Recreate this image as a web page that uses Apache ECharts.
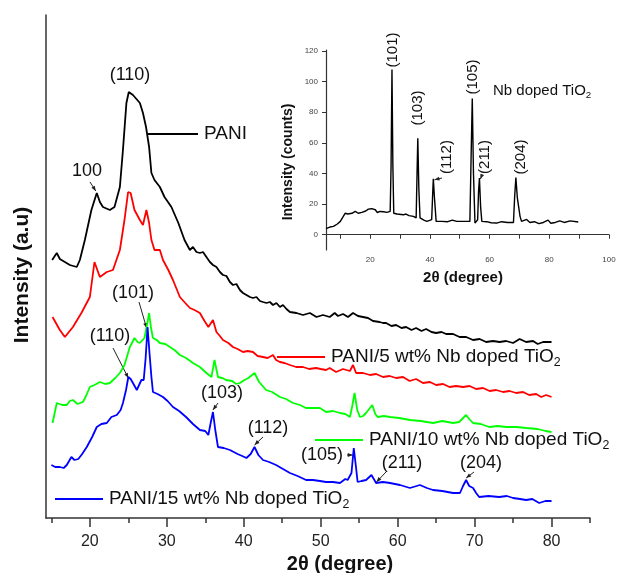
<!DOCTYPE html>
<html>
<head>
<meta charset="utf-8">
<script src="https://cdn.jsdelivr.net/npm/echarts@6/dist/echarts.min.js"></script>
<style>
  html, body { margin: 0; padding: 0; background: #fff; }
  #chart { width: 633px; height: 573px; }
</style>
</head>
<body>
<div id="chart"></div>
<script>
// main plot: [2theta, intensity a.u.]
const pani = [[15.1,258],[15.7,265],[16.1,259],[16.75,256],[17.4,253],[18.3,251],[18.7,258],[19.35,278],[20.2,308],[20.9,325],[21.3,316],[21.7,311],[22.6,308],[23.2,311],[23.9,331],[24.3,368],[24.75,415],[25.06,426],[25.6,423],[26.5,415],[26.9,405],[27.3,391],[27.7,371],[28.0,345],[28.4,338],[29.1,331],[29.7,321],[30.6,311],[31.5,295],[32.3,278],[33.0,268],[33.4,271],[33.85,266],[34.3,265],[34.7,266],[35.15,261],[35.6,256],[36.0,253],[36.45,251],[36.9,246],[37.3,243],[37.75,242],[38.2,236],[38.6,233],[39.05,234],[39.5,228],[39.9,225],[40.35,223],[40.8,221],[41.2,220],[41.65,221],[42.1,217],[42.5,216],[42.95,215],[43.4,216],[43.8,213],[44.25,215],[44.7,211],[45.1,213],[45.55,209],[46.0,206],[46.85,205],[47.7,203],[48.6,205],[49.45,201],[50.3,203],[51.17,201],[51.82,205],[52.25,202],[52.9,204],[53.55,201],[54.2,205],[54.85,202],[55.5,201],[56.15,200],[56.8,197],[57.66,196],[58.1,195],[58.5,195],[59.2,192],[59.8,193],[60.5,190],[61.1,191],[61.8,188],[62.4,190],[63.1,187],[63.7,189],[64.4,186],[65.0,185],[65.7,186],[66.3,184],[67.2,184],[68.05,181],[68.9,181],[69.8,178],[70.65,179],[71.5,176],[72.4,177],[73.25,176],[74.1,177],[75.0,175],[75.85,179],[76.7,176],[77.6,177],[78.2,174],[78.9,176],[80.0,176]];
const nb5 = [[15.15,201],[16.1,188],[16.75,181],[17.8,191],[18.9,205],[20.0,221],[20.6,256],[21.3,241],[22.2,246],[23.0,248],[23.9,268],[24.3,288],[24.5,298],[24.97,326],[25.3,325],[25.8,308],[26.5,298],[26.9,293],[27.35,308],[27.7,295],[28.0,278],[28.4,268],[29.1,268],[29.5,258],[30.2,248],[30.8,238],[31.7,221],[32.4,215],[33.0,210],[33.6,208],[34.3,205],[34.9,197],[35.4,191],[36.0,198],[36.45,186],[36.9,182],[37.3,178],[38.0,175],[38.6,171],[39.2,169],[39.9,166],[40.5,167],[41.2,166],[41.8,162],[42.5,161],[43.1,160],[43.8,163],[44.2,158],[44.7,156],[45.3,155],[46.0,153],[46.8,151],[47.7,151],[48.5,149],[49.4,150],[50.0,149],[50.7,148],[51.17,150],[52.0,146],[52.9,149],[53.8,147],[54.2,153],[54.6,145],[55.5,145],[56.4,143],[57.2,144],[58.1,141],[58.96,142],[59.8,140],[60.7,141],[61.56,137],[62.4,139],[63.3,135],[64.2,136],[65.0,133],[65.9,134],[66.75,131],[67.6,132],[68.5,131],[69.35,132],[70.2,129],[71.1,130],[71.95,127],[72.8,128],[73.7,126],[74.55,127],[75.4,125],[76.3,126],[77.1,123],[78.0,124],[78.66,121],[79.3,123],[80.0,121]];
const nb10 = [[15.15,95],[15.7,115],[16.4,113],[17.0,113],[17.4,117],[17.8,118],[18.4,114],[19.1,116],[19.5,122],[20.0,131],[20.6,133],[21.3,136],[22.0,134],[22.6,135],[23.3,140],[23.9,145],[24.5,153],[25.2,171],[25.8,180],[26.2,176],[26.5,175],[27.1,180],[27.4,192],[27.7,205],[27.95,190],[28.2,180],[28.7,178],[29.1,175],[29.8,174],[30.4,171],[31.0,168],[31.7,163],[32.5,160],[33.4,155],[34.3,151],[35.15,145],[35.8,141],[36.2,158],[36.65,141],[37.2,140],[37.7,138],[38.5,137],[39.0,134],[39.5,135],[40.1,138],[40.6,140],[41.4,145],[42.0,136],[42.9,128],[43.7,126],[44.7,121],[45.5,119],[46.4,115],[47.3,113],[48.1,110],[49.0,110],[49.9,110],[50.7,106],[51.6,107],[52.5,105],[53.2,104],[53.8,101],[54.1,112],[54.4,125],[54.75,108],[55.1,101],[55.5,102],[55.9,105],[56.7,113],[57.1,104],[57.4,101],[58.2,102],[59.0,101],[60.2,100],[61.6,98],[63.0,97],[64.6,95],[65.8,97],[67.2,95],[68.0,96],[68.9,103],[69.3,99],[69.8,95],[70.8,94],[71.9,91],[73.0,92],[74.1,91],[75.5,91],[76.7,90],[78.2,89],[79.2,87],[80,86]];
const nb15 = [[15.0,53],[15.5,51],[16.1,51],[16.6,50],[17.0,53],[17.6,61],[18.0,58],[18.5,59],[19.0,64],[19.6,71],[20.3,81],[20.9,91],[21.5,94],[22.2,95],[22.8,101],[23.5,103],[24.0,108],[24.3,115],[24.7,128],[25.0,141],[25.3,139],[25.6,135],[26.1,128],[26.4,133],[26.7,138],[27.0,138],[27.25,160],[27.5,191],[27.75,165],[28.0,141],[28.2,126],[28.8,124],[29.5,121],[30.1,117],[30.8,111],[31.6,107],[32.5,101],[33.4,94],[34.3,88],[35.0,87],[35.4,83],[35.7,95],[36.0,106],[36.3,88],[36.65,71],[37.4,70],[38.2,68],[39.2,64],[39.8,62],[40.35,60],[40.9,64],[41.4,71],[41.9,63],[42.5,58],[43.3,56],[44.2,53],[45.1,49],[46.0,45],[47.0,42],[48.1,38],[49.0,38],[49.9,37],[50.7,36],[51.6,36],[52.5,35],[53.2,39],[53.5,38],[54.0,45],[54.3,70],[54.6,50],[54.8,36],[55.3,37],[55.9,38],[56.6,43],[57.2,35],[58.1,36],[59.0,35],[60.3,33],[61.6,30],[62.9,33],[63.8,30],[64.6,28],[65.8,27],[67.2,25],[68.1,25],[68.5,32],[68.9,38],[69.3,32],[69.8,30],[70.2,25],[70.6,21],[71.8,22],[73.2,21],[74.2,22],[75.0,20],[75.9,19],[76.7,18],[77.5,19],[78.4,15],[79.2,17],[80,17]];

// inset: Nb doped TiO2, [2theta, counts]
const nbTiO2 = [[5.2,4],[6.5,5],[7.7,5.4],[9,7],[10,8.7],[11,12],[11.6,14],[12.5,13.5],[13.9,14],[15,15.2],[16,14],[17.2,14.6],[18.5,15.5],[19.4,16.7],[20.5,17],[21.7,16.3],[22.4,14.5],[23.3,15.2],[24.5,15],[25.6,14.6],[26.7,15.2],[27.0,45],[27.3,108],[27.6,45],[27.9,14],[29,13.5],[31.1,13],[32,13.5],[33,12.5],[34.5,12],[35.4,11],[35.7,40],[35.95,63],[36.3,30],[36.7,11],[38,9.5],[39,8.7],[40.6,9.8],[40.9,25],[41.15,36.5],[41.5,25],[42.1,8.7],[44,8.7],[46,8.5],[47.5,9.5],[49,8.7],[51,8.7],[53.4,8.7],[53.8,50],[54.2,89],[54.6,40],[55.1,7.6],[56.0,9.8],[56.3,28],[56.6,37],[57.0,18],[57.4,8.7],[59,8.5],[60.5,7.8],[62.4,7.6],[64,8.5],[66,8],[68.0,8.0],[68.4,25],[68.8,37.4],[69.3,24],[69.7,22.8],[70.2,12],[70.7,8.7],[72.4,10],[73.5,8],[75,8.5],[76.5,7.2],[78,8],[79.6,9.5],[80.5,7.5],[82,8],[83.5,9],[85,8],[87,9],[89.7,8.3]];

const mainTicks = [20, 30, 40, 50, 60, 70, 80];
const mainMinorTicks = [15, 25, 35, 45, 55, 65, 75, 85];
const insetXTicks = [10, 20, 30, 40, 50, 60, 70, 80, 90, 100];
const insetXLabels = [20, 40, 60, 80, 100];
const insetYLabels = [0, 20, 40, 60, 80, 100, 120];

const FONT = '"Liberation Sans", Arial, sans-serif';
const AX = '#333';

const chart = echarts.init(document.getElementById('chart'));

function curve(data, color, xi, yi, w) {
  return {
    type: 'line', data: data, xAxisIndex: xi, yAxisIndex: yi,
    showSymbol: false, smooth: false, silent: true,
    lineStyle: { color: color, width: w }
  };
}

chart.setOption({
  animation: false,
  grid: [
    { left: 46, right: 43, top: 15, bottom: 55 },
    { left: 326, right: 24, top: 50, bottom: 323 }
  ],
  xAxis: [
    {
      gridIndex: 0, type: 'value', min: 14.3, max: 85,
      axisLine: { lineStyle: { color: AX, width: 1.5 } },
      axisTick: { customValues: mainTicks, length: 9, lineStyle: { color: AX, width: 1.5 } },
      axisLabel: { customValues: mainTicks, color: '#222', fontSize: 16, fontFamily: FONT, margin: 16 },
      splitLine: { show: false }
    },
    {
      gridIndex: 0, type: 'value', min: 14.3, max: 85, position: 'bottom',
      axisLine: { show: false },
      axisTick: { customValues: mainMinorTicks, length: 5, lineStyle: { color: AX, width: 1.5 } },
      axisLabel: { show: false },
      splitLine: { show: false }
    },
    {
      gridIndex: 1, type: 'value', min: 5.2, max: 100,
      axisLine: { lineStyle: { color: AX, width: 1.2 } },
      axisTick: { customValues: insetXTicks, length: 4, lineStyle: { color: AX } },
      axisLabel: { customValues: insetXLabels, color: '#444', fontSize: 8, fontFamily: FONT, margin: 6 },
      splitLine: { show: false }
    }
  ],
  yAxis: [
    {
      gridIndex: 0, type: 'value', min: 0, max: 503,
      axisLine: { show: true, lineStyle: { color: AX, width: 1.5 } },
      axisTick: { show: false }, axisLabel: { show: false }, splitLine: { show: false }
    },
    {
      gridIndex: 1, type: 'value', min: -10, max: 120.7,
      axisLine: { show: true, lineStyle: { color: AX, width: 1.2 } },
      axisTick: { customValues: insetYLabels, length: 4, lineStyle: { color: AX } },
      axisLabel: { customValues: insetYLabels, color: '#444', fontSize: 8, fontFamily: FONT, margin: 8 },
      splitLine: { show: false }
    }
  ],
  series: [
    curve(pani, '#000000', 0, 0, 1.8),
    curve(nb5, '#ff0000', 0, 0, 1.8),
    curve(nb10, '#00ff00', 0, 0, 1.8),
    curve(nb15, '#0000ff', 0, 0, 1.8),
    curve(nbTiO2, '#000000', 2, 1, 1.4)
  ]
});

// ---- annotations ----
const px = (p) => chart.convertToPixel({ xAxisIndex: 0, yAxisIndex: 0 }, p);
const pxIn = (p) => chart.convertToPixel({ xAxisIndex: 2, yAxisIndex: 1 }, p);

function txt(s, x, y, size, opts) {
  opts = opts || {};
  return {
    type: 'text', x: x, y: y, rotation: opts.rot || 0, silent: true,
    style: {
      text: s, fontSize: size, fontFamily: FONT, fontWeight: opts.bold ? 'bold' : 'normal',
      fill: opts.color || '#111', align: opts.align || 'center', verticalAlign: 'middle',
      rich: opts.rich
    }
  };
}
function seg(x1, y1, x2, y2, color, w) {
  return { type: 'line', silent: true, shape: { x1, y1, x2, y2 }, style: { stroke: color, lineWidth: w } };
}
function arrow(x1, y1, x2, y2) {
  const a = Math.atan2(y2 - y1, x2 - x1), L = 5, W = 2;
  const c = Math.cos(a), s = Math.sin(a);
  return [
    seg(x1, y1, x2, y2, '#222', 1),
    { type: 'polygon', silent: true, shape: { points: [[x2, y2], [x2 - L * c + W * s, y2 - L * s - W * c], [x2 - L * c - W * s, y2 - L * s + W * c]] }, style: { fill: '#222' } }
  ];
}
const subRich = (size) => ({ s: { fontSize: size * 0.65, fontFamily: FONT, fill: '#111', padding: [size * 0.55, 0, 0, 0] } });

const g = [];
// PANI curve labels
g.push(txt('(110)', 130, 75, 18));
g.push(txt('100', 87, 171, 18));
const p100 = px([20.9, 325]);
g.push(...arrow(90, 182, p100[0] - 1, p100[1] - 2));
const pLine = px([27.55, 383]);
g.push(seg(pLine[0], 134, 198, 134, '#000', 1.8));
g.push(txt('PANI', 204, 134, 19, { align: 'left' }));

// legend-like lines
g.push(seg(277, 357, 325, 357, '#ff0000', 1.8));
g.push(txt('PANI/5 wt% Nb doped TiO{s|2}', 331, 357, 19, { align: 'left', rich: subRich(19) }));
g.push(seg(315, 440, 363, 440, '#00ff00', 1.8));
g.push(txt('PANI/10 wt% Nb doped TiO{s|2}', 369, 440, 19, { align: 'left', rich: subRich(19) }));
g.push(seg(55, 499, 103, 499, '#0000ff', 1.8));
g.push(txt('PANI/15 wt% Nb doped TiO{s|2}', 109, 499, 19, { align: 'left', rich: subRich(19) }));

// PANI/15 peak labels
const pk = (d, dx, dy) => { const p = px(d); return [p[0] + dx, p[1] + dy]; };
let t;
g.push(txt('(101)', 133, 293, 18));
t = pk([27.5, 191], -1, 1); g.push(...arrow(139, 302, t[0], t[1]));
g.push(txt('(110)', 110, 336, 18));
t = pk([25.0, 141], 0, 1); g.push(...arrow(113, 348, t[0], t[1]));
g.push(txt('(103)', 222, 393, 18));
t = pk([36.0, 106], 0, -2); g.push(...arrow(218, 403, t[0], t[1]));
g.push(txt('(112)', 268, 428, 18));
t = pk([41.4, 71], 0, -2); g.push(...arrow(263, 437, t[0], t[1]));
g.push(txt('(105)', 322, 455, 18));
t = pk([54.3, 70], -1, 7); g.push(...arrow(347, 455, t[0], t[1]));
g.push(txt('(211)', 402, 463, 18));
t = pk([56.6, 43], 5, 7); g.push(...arrow(386, 472, t[0], t[1]));
g.push(txt('(204)', 481, 463, 18));
t = pk([68.9, 38], 0, -2); g.push(...arrow(474, 472, t[0], t[1]));

// main axis titles
g.push(txt('Intensity (a.u)', 22, 275, 21, { bold: true, rot: Math.PI / 2 }));
g.push(txt('2\u03b8 (degree)', 340, 564, 20, { bold: true }));

// inset labels
const R = Math.PI / 2;
g.push(txt('(101)', 393, 50, 15, { rot: R }));
g.push(txt('(103)', 418, 108, 15, { rot: R }));
g.push(txt('(112)', 447, 157, 15, { rot: R }));
t = pxIn([41.2, 36.5]); g.push(...arrow(442, 178, t[0] + 1, t[1] + 1));
g.push(txt('(105)', 473, 77, 15, { rot: R }));
g.push(txt('(211)', 485, 157, 15, { rot: R }));
t = pxIn([56.6, 37]); g.push(...arrow(482, 175, t[0] + 1, t[1] + 1));
g.push(txt('(204)', 521, 157, 15, { rot: R }));
g.push(txt('Nb doped TiO{s|2}', 493, 91, 15, { align: 'left', rich: subRich(15) }));
g.push(txt('Intensity (counts)', 288, 162, 14, { bold: true, rot: R }));
g.push(txt('2\u03b8 (degree)', 463, 278, 15, { bold: true }));

chart.setOption({ graphic: g });
</script>
</body>
</html>
